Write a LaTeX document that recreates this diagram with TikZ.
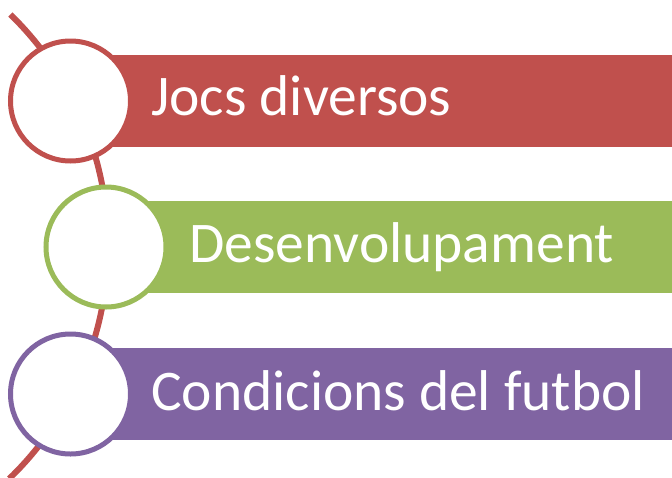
\documentclass[tikz,border=0pt]{standalone}
\usepackage{fontspec}
\setmainfont{Carlito}
\definecolor{jred}{HTML}{C0504D}
\definecolor{jgreen}{HTML}{9BBB59}
\definecolor{jpurple}{HTML}{8064A2}
\begin{document}
\begin{tikzpicture}[x=1pt,y=-1pt,
    bar/.style={rectangle,anchor=west,minimum width=602pt,minimum height=92pt,inner sep=0pt},
    ring/.style={circle,fill=white,line width=5pt,minimum size=120pt,inner sep=0pt},
    itemtext/.style={anchor=base west,text=white,font=\fontsize{57.5}{66}\selectfont,inner sep=0pt}]

        \clip (0,0) rectangle (672,477);

        % curved spine behind the rings
        \coordinate (top) at ([shift={(-45.7:323.5)}]-215.5,246);
        \draw[jred,line width=6pt] (top) arc[start angle=-45.7,end angle=46,radius=323.5];

        \node (bar1) [bar,fill=jred]    at (70,100.5) {};
        \node (bar2) [bar,fill=jgreen]  at (106,247)  {};
        \node (bar3) [bar,fill=jpurple] at (70,394)   {};

        \node (ring1) [ring,draw=jred]    at (70.5,101) {};
        \node (ring2) [ring,draw=jgreen]  at (106,247)  {};
        \node (ring3) [ring,draw=jpurple] at (70.5,394) {};

        \node (text1) [itemtext] at (151,115) {Jocs diversos};
        \node (text2) [itemtext] at (189,262) {Desenvolupament};
        \node (text3) [itemtext] at (151,410) {Condicions del futbol};

      \end{tikzpicture}
\end{document}
